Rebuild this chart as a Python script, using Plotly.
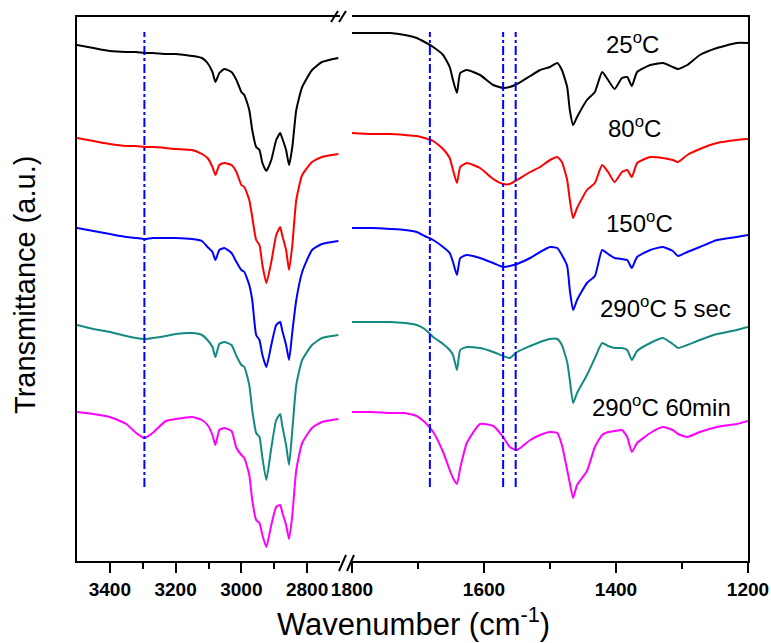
import plotly.graph_objects as go

# ---------------- data (transmittance in arbitrary units, curves offset) ----------------
wn_high = [3500, 3450, 3400, 3350, 3320, 3295, 3270, 3230, 3200, 3150, 3120, 3103, 3088, 3079,
           3067, 3052, 3030, 3015, 3000, 2991, 2976, 2967, 2955, 2945, 2936, 2924, 2909, 2894,
           2882, 2876, 2864, 2855, 2845, 2833, 2815, 2785, 2755, 2705]

t25_high = [516, 513, 510, 509, 509, 508, 508, 507, 507, 505, 503, 498, 489, 479, 488, 492, 489, 481,
            469, 466, 451, 431, 414, 411, 398, 390, 401, 421, 428, 423, 411, 396, 414, 451, 474, 491, 499, 503]
t80_high = [423, 420, 417, 415, 415, 414, 414, 413, 412, 411, 407, 403, 394, 386, 396, 398, 396, 389,
            376, 374, 361, 344, 321, 316, 296, 278, 299, 326, 334, 326, 311, 291, 316, 361, 386, 399, 404, 407]
t150_high = [333, 330, 327, 324, 323, 322, 323, 323, 323, 322, 320, 314, 309, 301, 311, 313, 308, 299,
             291, 289, 276, 261, 226, 221, 206, 194, 216, 236, 239, 231, 216, 201, 229, 261, 289, 311, 317, 320]
t290s_high = [236, 232, 229, 225, 223, 222, 223, 225, 227, 228, 226, 221, 214, 204, 217, 219, 216, 205,
              196, 194, 176, 151, 128, 124, 103, 81, 113, 141, 147, 136, 116, 96, 131, 176, 201, 216, 223, 226]
t290m_high = [149, 147, 144, 137, 128, 123, 128, 140, 142, 144, 141, 136, 126, 116, 131, 133, 130, 113,
              106, 103, 86, 61, 41, 38, 26, 14, 36, 54, 56, 49, 36, 22, 46, 91, 118, 133, 139, 142]

wn_low = [1800, 1770, 1742, 1720, 1702, 1690, 1677, 1662, 1652, 1647, 1641, 1636, 1626, 1606, 1586,
          1571, 1561, 1550, 1530, 1515, 1500, 1489, 1482, 1474, 1470, 1465, 1459, 1444, 1432, 1421,
          1412, 1402, 1391, 1383, 1376, 1368, 1348, 1329, 1314, 1306, 1292, 1273, 1247, 1217, 1200]

t25_low = [528, 528, 528, 526, 523, 519, 514, 506, 494, 481, 468, 488, 491, 486, 476, 473, 474, 477,
           485, 491, 494, 498, 491, 474, 451, 436, 444, 461, 469, 489, 481, 472, 483, 484, 475, 489,
           496, 498, 494, 492, 496, 506, 513, 518, 518]
t80_low = [428, 427, 427, 426, 425, 423, 420, 412, 403, 391, 378, 394, 398, 393, 382, 377, 377, 381,
           389, 394, 401, 404, 399, 381, 361, 343, 353, 371, 378, 396, 389, 379, 389, 391, 384, 398,
           404, 403, 401, 399, 406, 412, 418, 421, 422]
t150_low = [333, 333, 332, 331, 329, 325, 321, 314, 308, 299, 286, 303, 306, 303, 298, 294, 295, 297,
            303, 309, 314, 313, 306, 295, 271, 251, 261, 278, 285, 311, 307, 303, 302, 301, 293, 304,
            311, 314, 310, 305, 309, 314, 321, 324, 326]
t290s_low = [239, 239, 239, 238, 236, 232, 224, 217, 211, 206, 191, 211, 214, 213, 209, 205, 203, 209,
             215, 219, 222, 222, 216, 199, 181, 158, 168, 186, 203, 218, 215, 213, 213, 211, 201, 210,
             218, 223, 217, 213, 216, 221, 227, 231, 234]
t290m_low = [149, 149, 148, 148, 145, 139, 129, 109, 91, 83, 77, 93, 118, 137, 135, 124, 114, 111,
             121, 126, 129, 128, 116, 91, 78, 63, 76, 90, 114, 126, 129, 130, 131, 124, 109, 118,
             128, 134, 131, 127, 124, 129, 134, 137, 140]

labels = ["25<sup>o</sup>C", "80<sup>o</sup>C", "150<sup>o</sup>C",
          "290<sup>o</sup>C 5 sec", "290<sup>o</sup>C 60min"]
colors = ["#000000", "#ff0000", "#0000ff", "#138a80", "#ff00ff"]
high_series = [t25_high, t80_high, t150_high, t290s_high, t290m_high]
low_series = [t25_low, t80_low, t150_low, t290s_low, t290m_low]

ref_high = [3295]
ref_low = [1682, 1571, 1552]
ref_span = [74, 529]

high_ticks = [3400, 3200, 3000, 2800]
low_ticks = [1800, 1600, 1400, 1200]

FONT = "Liberation Sans, Arial, sans-serif"

fig = go.Figure()

for ys, c in zip(high_series, colors):
    fig.add_trace(go.Scatter(x=wn_high, y=ys, mode="lines",
                             line=dict(color=c, width=2, shape="spline", smoothing=0.5),
                             xaxis="x", yaxis="y", showlegend=False))
for ys, c in zip(low_series, colors):
    fig.add_trace(go.Scatter(x=wn_low, y=ys, mode="lines",
                             line=dict(color=c, width=2, shape="spline", smoothing=0.5),
                             xaxis="x2", yaxis="y2", showlegend=False))

for w in ref_high:
    fig.add_trace(go.Scatter(x=[w, w], y=ref_span, mode="lines",
                             line=dict(color="#0000ff", width=2, dash="dashdot"),
                             xaxis="x", yaxis="y", showlegend=False))
for w in ref_low:
    fig.add_trace(go.Scatter(x=[w, w], y=ref_span, mode="lines",
                             line=dict(color="#0000ff", width=2, dash="dashdot"),
                             xaxis="x2", yaxis="y2", showlegend=False))

# pixel -> paper helpers for layout decorations
L, R, T, B = 77, 748, 17, 561
def px(x):
    return (x - L) / (R - L)
def py(y):
    return (B - y) / (B - T)

axis_common = dict(showline=True, linecolor="black", linewidth=2, mirror=True,
                   ticks="outside", ticklen=10, tickwidth=2, tickcolor="black",
                   showgrid=False, zeroline=False, automargin=False,
                   tickfont=dict(family=FONT, size=19, color="black", weight="bold"))

fig.update_layout(
    template="none",
    width=771, height=643,
    margin=dict(l=L, r=771 - R, t=T, b=643 - B, autoexpand=False),
    plot_bgcolor="white", paper_bgcolor="white",
    xaxis=dict(domain=[0, px(340)], range=[3500, 2700], tickvals=high_ticks,
               minor=dict(ticks="outside", ticklen=6, tickwidth=2, tickcolor="black",
                          tickvals=[3300, 3100, 2900]),
               anchor="y", **axis_common),
    xaxis2=dict(domain=[px(352), 1], range=[1800, 1200], tickvals=low_ticks,
                minor=dict(ticks="outside", ticklen=6, tickwidth=2, tickcolor="black",
                           tickvals=[1700, 1500, 1300]),
                anchor="y2", **axis_common),
    yaxis=dict(domain=[0, 1], range=[0, 544], showline=True, linecolor="black", linewidth=2,
               showticklabels=False, ticks="", showgrid=False, zeroline=False, anchor="x",
               automargin=False),
    yaxis2=dict(domain=[0, 1], range=[0, 544], showline=True, linecolor="black", linewidth=2,
                side="right", showticklabels=False, ticks="", showgrid=False, zeroline=False,
                anchor="x2", automargin=False),
)

# axis break marks
for (x0, x1, y0, y1) in [(331, 338, 22, 11), (339, 346, 22, 11),
                         (339, 346, 571, 555), (347, 354, 571, 555)]:
    fig.add_shape(type="line", xref="paper", yref="paper",
                  x0=px(x0), x1=px(x1), y0=py(y0), y1=py(y1),
                  line=dict(color="black", width=2))

# titles
fig.add_annotation(text="Wavenumber (cm<sup>-1</sup>)", xref="paper", yref="paper",
                   x=px(413), y=py(622), showarrow=False, xanchor="center", yanchor="middle",
                   font=dict(family=FONT, size=31, color="black"))
fig.add_annotation(text="Transmittance (a.u.)", xref="paper", yref="paper",
                   x=px(25), y=py(285), showarrow=False, textangle=-90,
                   xanchor="center", yanchor="middle",
                   font=dict(family=FONT, size=29, color="black"))

label_pos = [(632, 43), (634, 127), (639, 222), (665, 307), (661, 406)]
for txt, (lx, ly) in zip(labels, label_pos):
    fig.add_annotation(text=txt, xref="paper", yref="paper", x=px(lx), y=py(ly),
                       showarrow=False, xanchor="center", yanchor="middle",
                       font=dict(family=FONT, size=24, color="black"))

fig.write_html("out.html", config={"displayModeBar": False},
               post_script="document.body.style.margin='0px';document.body.style.padding='0px';")
